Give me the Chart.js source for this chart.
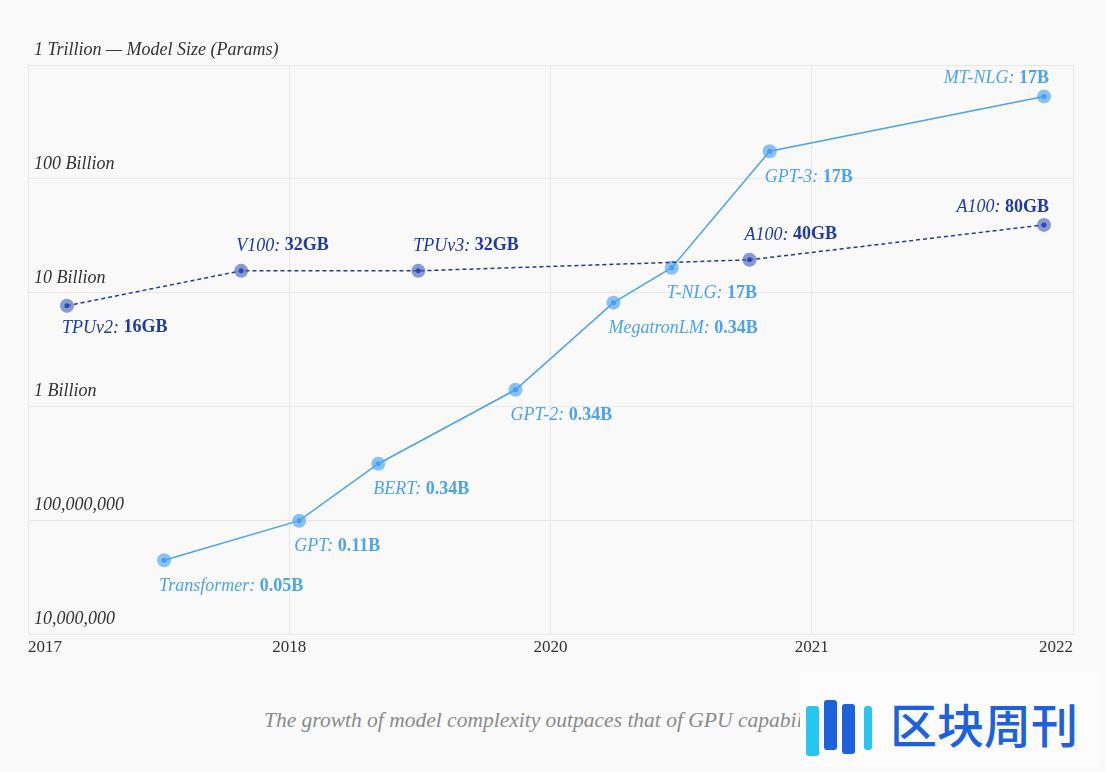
<!DOCTYPE html>
<html>
<head>
  <title>Model size vs GPU memory</title>
  <script src="https://cdn.jsdelivr.net/npm/chart.js"></script>
  <style>
    body { margin: 0; background: #f9f9f9; }
    #wrap { position: relative; width: 1106px; height: 772px; }
    #box { position: absolute; left: 0; top: 0; width: 1106px; height: 680px; }
    #caption { position: absolute; left: 0; width: 1092px; top: 708px; text-align: center;
      font: italic 21.5px "Liberation Serif", serif; color: #8a8a8a; }
    #logo { position: absolute; left: 800px; top: 672px; width: 300px; height: 95px; background: #fcfcfd; }
    #logo .bar { position: absolute; width: 13px; border-radius: 3px; }
    #logo span { position: absolute; left: 90px; top: 16px; font: 500 47px "Noto Sans CJK SC", sans-serif;
      color: #1d62dc; letter-spacing: 0px; }
  </style>
</head>
<body>
  <div id="wrap">
    <div id="box"><canvas id="myChart"></canvas></div>
    <div id="caption">The growth of model complexity outpaces that of GPU capability.</div>
    <div id="logo">
      <div class="bar" style="left:6px;top:34px;height:50px;background:#27c6f0;"></div>
      <div class="bar" style="left:24px;top:28px;height:50px;background:#1d62dc;"></div>
      <div class="bar" style="left:42px;top:32px;height:50px;background:#1d62dc;"></div>
      <div class="bar" style="left:64px;top:34px;height:44px;width:8px;background:#27c6f0;"></div>
      <span>区块周刊</span>
    </div>
  </div>

  <script>
    // x axis ticks (evenly spaced, as drawn)
    const xTickLabels = ['2017', '2018', '2020', '2021', '2022'];
    const yTickValues = [1e7, 1e8, 1e9, 1e10, 1e11, 1e12];
    const yTickLabels = ['10,000,000', '100,000,000', '1 Billion', '10 Billion', '100 Billion',
      '1 Trillion \u2014 Model Size (Params)'];

    // models
    const modelNames = ['Transformer', 'GPT', 'BERT', 'GPT-2', 'MegatronLM', 'T-NLG', 'GPT-3', 'MT-NLG'];
    const modelValues = ['0.05B', '0.11B', '0.34B', '0.34B', '0.34B', '17B', '17B', '17B'];
    const modelX = [0.521, 1.038, 1.341, 1.866, 2.241, 2.464, 2.839, 3.889];
    const modelY = [4.5e7, 1.0e8, 3.16e8, 1.41e9, 8.2e9, 1.66e10, 1.75e11, 5.3e11];
    const modelPlace = ['below', 'below', 'below', 'below', 'below', 'below', 'below', 'aboveLeft'];

    // accelerators
    const gpuNames = ['TPUv2', 'V100', 'TPUv3', 'A100', 'A100'];
    const gpuValues = ['16GB', '32GB', '32GB', '40GB', '80GB'];
    const gpuX = [0.149, 0.816, 1.494, 2.762, 3.889];
    const gpuY = [7.7e9, 1.56e10, 1.56e10, 1.95e10, 3.95e10];
    const gpuPlace = ['below', 'above', 'above', 'above', 'aboveLeft'];

    const FONT = '"Liberation Serif", serif';
    const modelColor = '#4ca3f0';
    const gpuColor = '#1f3aa6';

    const toPts = (xs, ys) => xs.map((x, i) => ({ x: x, y: ys[i] }));

    // draws "Name: value" next to each point
    const pointLabels = {
      id: 'pointLabels',
      afterDatasetsDraw(chart) {
        const ctx = chart.ctx;
        ctx.save();
        ctx.textBaseline = 'middle';
        ctx.textAlign = 'left';
        chart.data.datasets.forEach((ds, i) => {
          if (!ds.names) return;
          chart.getDatasetMeta(i).data.forEach((pt, j) => {
            const name = ds.names[j] + ': ';
            const val = ds.values[j];
            ctx.font = 'italic 18px ' + FONT;
            const w1 = ctx.measureText(name).width;
            ctx.font = 'bold 18px ' + FONT;
            const w2 = ctx.measureText(val).width;
            const place = ds.places[j];
            let x = pt.x - 5;
            let y = pt.y + 26;
            if (place === 'above') y = pt.y - 25;
            if (place === 'aboveLeft') { x = pt.x + 5 - w1 - w2; y = pt.y - 18; }
            if (ds.names === gpuNames && place === 'below') y = pt.y + 22;
            ctx.fillStyle = ds.labelColor;
            ctx.font = 'italic 18px ' + FONT;
            ctx.fillText(name, x, y);
            ctx.font = 'bold 18px ' + FONT;
            ctx.fillText(val, x + w1, y);
          });
        });
        ctx.restore();
      }
    };

    const ctx = document.getElementById('myChart').getContext('2d');
    const myChart = new Chart(ctx, {
      type: 'line',
      data: {
        datasets: [
          {
            data: toPts(gpuX, gpuY),
            borderColor: gpuColor,
            borderWidth: 1.5,
            borderDash: [4, 3],
            pointRadius: 7,
            pointBorderWidth: 0,
            pointBackgroundColor: 'rgba(60,90,190,0.6)',
            names: gpuNames, values: gpuValues, places: gpuPlace, labelColor: gpuColor
          },
          {
            data: toPts(gpuX, gpuY),
            showLine: false,
            pointRadius: 2.5,
            pointBorderWidth: 0,
            pointBackgroundColor: '#1a2e96'
          },
          {
            data: toPts(modelX, modelY),
            borderColor: modelColor,
            borderWidth: 1.5,
            pointRadius: 7,
            pointBorderWidth: 0,
            pointBackgroundColor: 'rgba(76,163,240,0.65)',
            names: modelNames, values: modelValues, places: modelPlace, labelColor: modelColor
          },
          {
            data: toPts(modelX, modelY),
            showLine: false,
            pointRadius: 2.5,
            pointBorderWidth: 0,
            pointBackgroundColor: '#3590e6'
          }
        ]
      },
      options: {
        responsive: true,
        maintainAspectRatio: false,
        animation: false,
        layout: { padding: { left: 16, right: 33, top: 65, bottom: 19 } },
        plugins: { legend: { display: false }, tooltip: { enabled: false } },
        scales: {
          x: {
            type: 'linear',
            min: 0,
            max: 4,
            grid: { color: '#e8e8e8', drawTicks: false },
            border: { color: '#e8e8e8' },
            afterBuildTicks: axis => { axis.ticks = xTickLabels.map((t, i) => ({ value: i })); },
            ticks: {
              align: 'inner',
              padding: 3,
              color: '#333',
              font: { family: FONT, size: 17 },
              callback: v => xTickLabels[v]
            }
          },
          y: {
            type: 'logarithmic',
            min: 1e7,
            max: 1e12,
            grid: { color: '#e8e8e8', drawTicks: false },
            border: { color: '#e8e8e8' },
            afterBuildTicks: axis => { axis.ticks = yTickValues.map(v => ({ value: v })); },
            ticks: {
              mirror: true,
              padding: 6,
              labelOffset: -15,
              color: '#333',
              font: { family: FONT, size: 18, style: 'italic' },
              callback: v => yTickLabels[yTickValues.indexOf(v)]
            }
          }
        }
      },
      plugins: [pointLabels]
    });
  </script>
</body>
</html>
